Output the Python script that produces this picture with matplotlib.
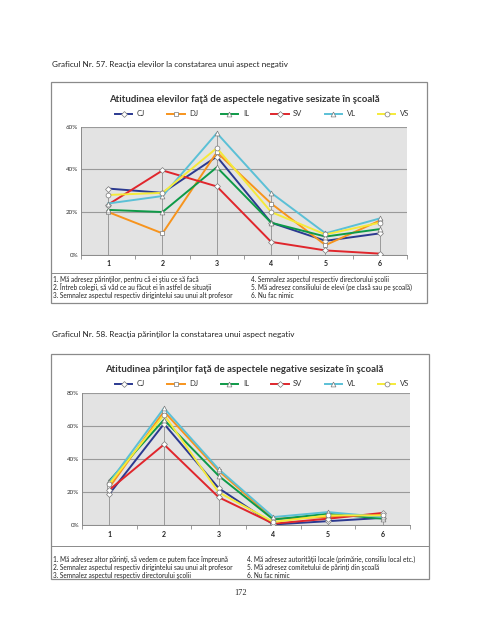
import matplotlib
matplotlib.use("Agg")
import matplotlib.pyplot as plt
from matplotlib.patches import Rectangle

plt.rcParams['font.family'] = ['Lato', 'DejaVu Sans']

categories = ["1", "2", "3", "4", "5", "6"]
series_names = ["CJ", "DJ", "IL", "SV", "VL", "VS"]

# Graficul 57 - elevi (%)
elevi_CJ = [31, 29, 46, 15, 6.5, 10]
elevi_DJ = [20, 10, 48, 24, 4.5, 16]
elevi_IL = [21, 20, 41, 15, 8.5, 12]
elevi_SV = [23.5, 39.5, 32, 6, 2, 0.5]
elevi_VL = [24, 27.5, 57, 29, 10, 17]
elevi_VS = [28, 29, 50, 20, 9.5, 15]

# Graficul 58 - parinti (%)
parinti_CJ = [19, 61.5, 22.5, 0.5, 2.5, 4.5]
parinti_DJ = [23, 69, 33, 4, 5, 6.5]
parinti_IL = [27, 64, 30, 3.5, 7, 4]
parinti_SV = [21.5, 49, 17, 1, 4, 7.5]
parinti_VL = [26, 71, 34, 5, 8, 5]
parinti_VS = [25, 67, 20, 2, 6, 6]

notes_elevi = [
    "1. Mă adresez părinţilor, pentru că ei ştiu ce să facă",
    "2. Întreb colegii, să văd ce au făcut ei în astfel de situaţii",
    "3. Semnalez aspectul respectiv dirigintelui sau unui alt profesor",
    "4. Semnalez aspectul respectiv directorului şcolii",
    "5. Mă adresez consiliului de elevi (pe clasă sau pe şcoală)",
    "6. Nu fac nimic",
]
notes_parinti = [
    "1. Mă adresez altor părinţi, să vedem ce putem face împreună",
    "2. Semnalez aspectul respectiv dirigintelui sau unui alt profesor",
    "3. Semnalez aspectul respectiv directorului şcolii",
    "4. Mă adresez autorităţii locale (primărie, consiliu local etc.)",
    "5. Mă adresez comitetului de părinţi din şcoală",
    "6. Nu fac nimic",
]

colors = ["#2b3990", "#f7941d", "#0e9a48", "#e0262c", "#5bc0d6", "#f5ea3a"]
markers = ["D", "s", "^", "D", "^", "o"]
msizes = [3, 3, 3.5, 3, 3.5, 3.5]

W, H = 481, 640
fig = plt.figure(figsize=(W / 100, H / 100), dpi=100)
fig.patch.set_facecolor("white")


def fx(x):
    return x / W


def fy(y):
    return 1 - y / H


def draw_chart(data, notes, caption, title, box, plot, ymax, cap_y, title_y, leg_y,
               sep_y, note_y, note_x2):
    bx0, by0, bx1, by1 = box
    fig.text(fx(52), fy(cap_y), caption, fontsize=5.9, va="center", ha="left", color="#222222")
    fig.patches.append(Rectangle((fx(bx0), fy(by1)), fx(bx1) - fx(bx0), fy(by0) - fy(by1),
                                 transform=fig.transFigure, fill=False, ec="#8a8a8a", lw=0.9))
    fig.lines.append(plt.Line2D([fx(bx0), fx(bx1)], [fy(sep_y), fy(sep_y)],
                                transform=fig.transFigure, color="#8a8a8a", lw=0.7))
    fig.text(fx(244), fy(title_y), title, fontsize=6.9, fontweight="bold",
             ha="center", va="center", color="#333333")

    px0, py0, px1, py1 = plot
    ax = fig.add_axes([fx(px0), fy(py1), fx(px1) - fx(px0), fy(py0) - fy(py1)])
    ax.set_facecolor("#e3e3e3")
    x = list(range(1, len(categories) + 1))
    tops = [max(vals) for vals in zip(*data)]
    ax.vlines(x, 0, [t / 100 for t in tops], color="#9a9a9a", lw=0.7, zorder=1)
    handles = []
    for vals, name, c, m, ms in zip(data, series_names, colors, markers, msizes):
        h, = ax.plot(x, [v / 100 for v in vals], color=c, lw=1.4, marker=m, ms=ms,
                     mfc="white", mec="#7a7a7a", mew=0.5, label=name, zorder=3)
        handles.append(h)
    ax.set_xlim(0.5, len(categories) + 0.5)
    ax.set_ylim(0, ymax)
    yt = [i / 100 for i in range(0, int(ymax * 100) + 1, 20)]
    ax.set_yticks(yt)
    ax.set_yticklabels([f"{int(round(v * 100))}%" for v in yt], fontsize=4.5, color="#333333")
    ax.set_xticks(x)
    ax.set_xticklabels(categories, fontsize=5, fontweight="bold", color="#222222")
    ax.set_xticks([i + 0.5 for i in range(0, len(categories) + 1)], minor=True)
    ax.tick_params(axis="x", which="major", length=0, pad=4)
    ax.tick_params(axis="x", which="minor", length=3, color="#8a8a8a", width=0.6)
    ax.tick_params(axis="y", length=0, pad=2)
    ax.grid(axis="y", color="#9a9a9a", lw=0.8)
    ax.set_axisbelow(True)
    for s in ["top", "right"]:
        ax.spines[s].set_visible(False)
    for s in ["left", "bottom"]:
        ax.spines[s].set_color("#8a8a8a")
        ax.spines[s].set_linewidth(0.7)

    leg = fig.legend(handles=handles, loc="center", ncol=6,
                     bbox_to_anchor=(fx(262), fy(leg_y)), frameon=False,
                     fontsize=5.5, handlelength=2.3, columnspacing=2.9, handletextpad=0.6,
                     borderpad=0)
    for t in leg.get_texts():
        t.set_color("#333333")

    for i, n in enumerate(notes):
        col, row = divmod(i, 3)
        fig.text(fx(53 if col == 0 else note_x2), fy(note_y[row]), n, fontsize=4.7,
                 ha="left", va="center", color="#222222")


draw_chart([elevi_CJ, elevi_DJ, elevi_IL, elevi_SV, elevi_VL, elevi_VS], notes_elevi,
           "Graficul Nr. 57. Reacţia elevilor la constatarea unui aspect negativ",
           "Atitudinea elevilor faţă de aspectele negative sesizate în şcoală",
           box=(51, 82, 427, 303), plot=(81, 126.7, 407, 254.7), ymax=0.6,
           cap_y=64, title_y=99, leg_y=114, sep_y=273,
           note_y=[279.5, 287.3, 295.1], note_x2=251)

draw_chart([parinti_CJ, parinti_DJ, parinti_IL, parinti_SV, parinti_VL, parinti_VS],
           notes_parinti,
           "Graficul Nr. 58. Reacţia părinţilor la constatarea unui aspect negativ",
           "Atitudinea părinţilor faţă de aspectele negative sesizate în şcoală",
           box=(51, 354, 429, 579), plot=(82, 393.3, 410, 525.3), ymax=0.8,
           cap_y=334, title_y=369, leg_y=384, sep_y=546,
           note_y=[559.5, 567.3, 575.1], note_x2=247)

fig.text(fx(241), fy(593), "172", fontsize=6, ha="center", va="center",
         family=["Liberation Serif", "DejaVu Serif"], color="#222222")

fig.savefig("out.png", dpi=100)
